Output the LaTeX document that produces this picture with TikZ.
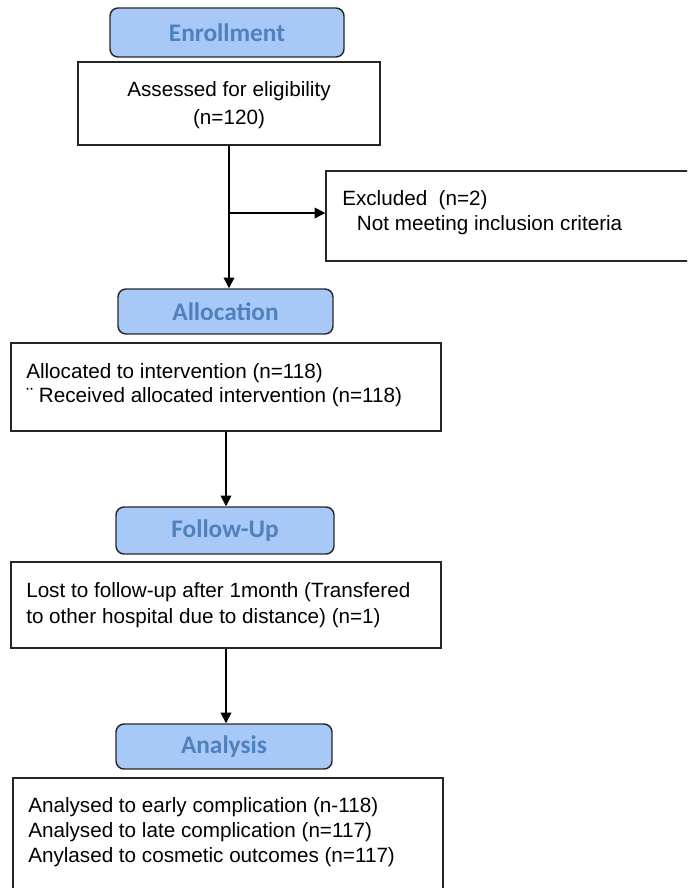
\documentclass[tikz,border=0pt]{standalone}
\usepackage{fontspec}
\setmainfont{Liberation Sans}
\newfontfamily\hdrfont{Carlito}
\usetikzlibrary{arrows.meta}
\definecolor{hdrfill}{RGB}{168,200,248}
\definecolor{hdrtext}{RGB}{79,129,189}
\definecolor{hdrline}{RGB}{40,40,40}
\begin{document}
\begin{tikzpicture}[x=0.75pt,y=-0.75pt,
  hdr/.style={draw=hdrline, line width=1.1pt, fill=hdrfill, rounded corners=6pt,
    font=\hdrfont\bfseries\fontsize{19}{22}\selectfont, text=hdrtext, inner sep=0pt},
  box/.style={draw=black!85, line width=1.1pt, inner sep=0pt},
  txt/.style={inner sep=0pt, align=left},
  arr/.style={line width=1.1pt, -{Triangle[length=8pt,width=8pt]}}]
\useasboundingbox (0,0) rectangle (687,888);
\clip (0,0) rectangle (687,888);
\fill[white] (0,0) rectangle (687,888);

% header boxes
\node[hdr, minimum width={234*0.75pt}, minimum height={49*0.75pt}] (enr) at (227,32.5) {Enrollment};
\node[hdr, minimum width={215*0.75pt}, minimum height={45*0.75pt}] (alh) at (225.5,311.5) {Allocation};
\node[hdr, minimum width={218*0.75pt}, minimum height={47*0.75pt}] (fuh) at (225,530.5) {Follow-Up};
\node[hdr, minimum width={216*0.75pt}, minimum height={45*0.75pt}] (anh) at (224,746.5) {Analysis};

% content boxes
\node[box, minimum width={302*0.75pt}, minimum height={83*0.75pt}] (ass) at (229,103.5) {};
\node[box, minimum width={394*0.75pt}, minimum height={90*0.75pt}] (exc) at (523,216) {};
\node[box, minimum width={430*0.75pt}, minimum height={88*0.75pt}] (alb) at (226,387) {};
\node[box, minimum width={430*0.75pt}, minimum height={86*0.75pt}] (lost) at (226,605) {};
\node[box, minimum width={430*0.75pt}, minimum height={142*0.75pt}] (res) at (228,849) {};

% texts
\node[txt, align=center, font=\fontsize{15.5}{21}\selectfont] (asst) at (229,105)
  {Assessed for eligibility\\(n=120)};
\node[txt, anchor=west, font=\fontsize{15.5}{18.75}\selectfont] (exct) at (342,213)
  {Excluded\ \ (n=2)\\\hspace*{11pt}Not meeting inclusion criteria};
\node[txt, anchor=west, font=\fontsize{15.5}{18}\selectfont] (albt) at (26,385.5)
  {Allocated to intervention (n=118)\\¨ Received allocated intervention (n=118)};
\node[txt, anchor=west, font=\fontsize{15.5}{19.5}\selectfont] (lostt) at (26,605)
  {Lost to follow-up after 1month (Transfered\\to other hospital due to distance) (n=1)};
\node[txt, anchor=west, font=\fontsize{15.5}{18.75}\selectfont] (rest) at (28,832)
  {Analysed to early complication (n-118)\\Analysed to late complication (n=117)\\Anylased to cosmetic outcomes (n=117)};

% connectors
\coordinate (br) at (229,213);
\draw[arr] (ass.south) -- (ass.south |- alh.north);
\draw[arr] (br) -- (br -| exc.west);
\draw[arr] (alb.south) -- (alb.south |- fuh.north);
\draw[arr] (lost.south) -- (lost.south |- anh.north);
\end{tikzpicture}
\end{document}
